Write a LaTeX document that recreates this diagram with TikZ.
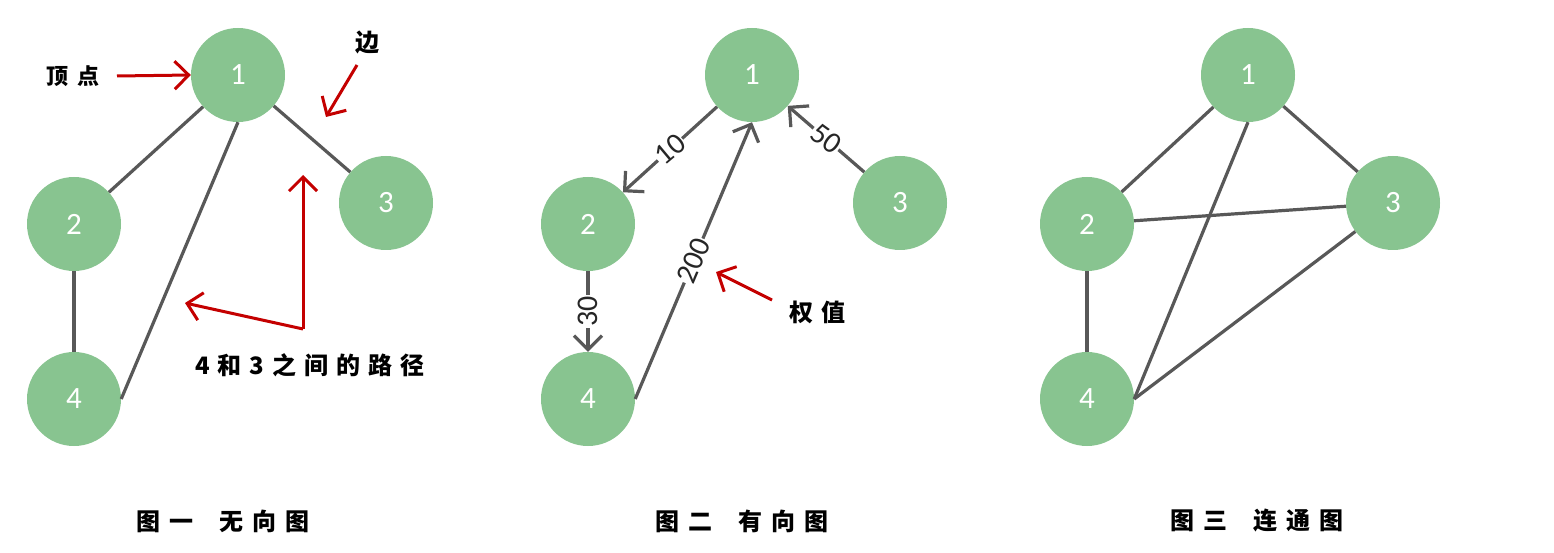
\documentclass[tikz,border=0pt]{standalone}
\usepackage{fontspec}
\setmainfont{Carlito}
\newfontfamily\cjk{Noto Sans CJK SC}
\usetikzlibrary{arrows.meta}
\definecolor{nodegreen}{RGB}{136,196,144}
\definecolor{edgegray}{RGB}{88,88,88}
\definecolor{annred}{RGB}{196,0,0}
\newcommand\gp{\hspace{8pt}}
\begin{document}
\begin{tikzpicture}[x=1pt,y=-1pt,
  vertex/.style={circle, fill=nodegreen, minimum size=94pt, inner sep=0pt, text=white, font=\fontsize{31}{31}\selectfont},
  edge/.style={draw=edgegray, line width=3.2pt},
  darrow/.style={edge, -{Straight Barb[length=14pt,width=28pt]}},
  wlabel/.style={fill=white, inner sep=1pt, text=black!85, font=\fontsize{30}{30}\selectfont},
  redarrow/.style={draw=annred, line width=3pt, -{Straight Barb[length=14pt,width=28pt]}},
  note/.style={inner sep=0pt, font=\cjk\bfseries\fontsize{22}{22}\selectfont},
  capt/.style={inner sep=0pt, font=\cjk\bfseries\fontsize{24}{24}\selectfont}
]
\fill[white] (0,0) rectangle (1554,553);
\useasboundingbox (0,0) rectangle (1554,553);

% ---------- graph 1 ----------
\node[vertex] (a1) at (238,75) {1};
\node[vertex] (a2) at (74,224) {2};
\node[vertex] (a3) at (386,203) {3};
\node[vertex] (a4) at (74,399) {4};
\draw[edge] (a1) -- (a2);
\draw[edge] (a1) -- (a3);
\draw[edge] (a2) -- (a4);
\draw[edge] (a1.south) -- (a4.east);

\node[note] (tdian) at (73,76) {顶\hspace{9pt}点};
\coordinate (r1s) at (117,76);
\draw[redarrow] (r1s) -- (a1.west);
\node[note, font=\cjk\bfseries\fontsize{24}{24}\selectfont] (tbian) at (367,43) {边};
\coordinate (r2s) at (357,65);
\coordinate (r2e) at (326,117);
\draw[redarrow] (r2s) -- (r2e);
\coordinate (pc) at (303,329);
\coordinate (pu) at (303,175);
\coordinate (pl) at (185,303);
\draw[redarrow] (pc) -- (pu);
\draw[redarrow] (pc) -- (pl);
\node[note, font=\cjk\bfseries\fontsize{24}{24}\selectfont] (tpath) at (310,365) {4\gp 和\gp 3\gp 之\gp 间\gp 的\gp 路\gp 径};

% ---------- graph 2 ----------
\node[vertex] (b1) at (752,75) {1};
\node[vertex] (b2) at (588,224) {2};
\node[vertex] (b3) at (900,203) {3};
\node[vertex] (b4) at (588,399) {4};
\draw[darrow] (b1) -- node[wlabel, rotate=40] {10} (b2);
\draw[darrow] (b3) -- node[wlabel, rotate=-36] {50} (b1);
\draw[darrow] (b2) -- node[wlabel, rotate=90] {30} (b4);
\draw[darrow] (b4.east) -- node[wlabel, rotate=67] {200} (b1.south);
\coordinate (r3s) at (772,300);
\coordinate (r3e) at (716,272);
\draw[redarrow] (r3s) -- (r3e);
\node[note, font=\cjk\bfseries\fontsize{24}{24}\selectfont] (tquan) at (817,312) {权\hspace{8pt}值};

% ---------- graph 3 ----------
\node[vertex] (c1) at (1248,75) {1};
\node[vertex] (c2) at (1087,224) {2};
\node[vertex] (c3) at (1393,203) {3};
\node[vertex] (c4) at (1087,399) {4};
\draw[edge] (c1) -- (c2);
\draw[edge] (c1) -- (c3);
\draw[edge] (c2) -- (c3);
\draw[edge] (c2) -- (c4);
\draw[edge] (c1.south) -- (c4.east);
\draw[edge] (c3) -- (c4.east);

% ---------- captions ----------
\node[capt] (cap1) at (223,521) {图\hspace{9pt}一\hspace{26pt}无\hspace{9pt}向\hspace{9pt}图};
\node[capt] (cap2) at (742,521) {图\hspace{9pt}二\hspace{26pt}有\hspace{9pt}向\hspace{9pt}图};
\node[capt] (cap3) at (1257,521) {图\hspace{9pt}三\hspace{26pt}连\hspace{9pt}通\hspace{9pt}图};
\end{tikzpicture}
\end{document}
